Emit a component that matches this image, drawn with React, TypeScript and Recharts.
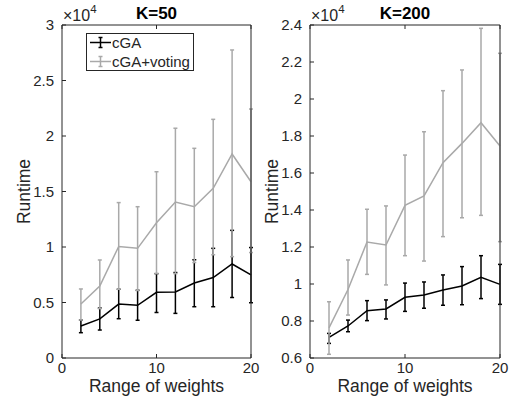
import React from 'react';
import { LineChart, Line, XAxis, YAxis, ErrorBar, Legend, Label } from 'recharts';

const FONT = '"Liberation Sans", Arial, Helvetica, sans-serif';
const AXIS_COLOR = '#262626';
const GRAY = '#a9a9a9';

const weights = [2, 4, 6, 8, 10, 12, 14, 16, 18, 20];
const seriesNames = ['cGA', 'cGA+voting'];

// K=50 panel
const k50CgaMean = [2880, 3520, 4860, 4750, 5920, 5950, 6750, 7250, 8470, 7480];
const k50CgaLow = [2280, 2520, 3540, 3400, 4100, 4020, 4620, 4620, 5450, 4980];
const k50CgaHigh = [3420, 4500, 6190, 6100, 7600, 7700, 8850, 9880, 11500, 9950];
const k50VoteMean = [4860, 6490, 10050, 9880, 12190, 14050, 13630, 15290, 18380, 15880];
const k50VoteLow = [3420, 4450, 6190, 6080, 7600, 7600, 8600, 9300, 9130, 9500];
const k50VoteHigh = [6220, 8830, 14000, 13630, 16780, 20700, 18890, 21500, 27750, 22430];

// K=200 panel
const k200CgaMean = [7120, 7730, 8560, 8650, 9280, 9410, 9680, 9890, 10360, 9980];
const k200CgaLow = [6790, 7420, 8020, 8110, 8520, 8690, 8850, 8880, 9210, 8900];
const k200CgaHigh = [7330, 8050, 9100, 9140, 10050, 10110, 10490, 10940, 11530, 11060];
const k200VoteMean = [7630, 9700, 12270, 12110, 14250, 14760, 16560, 17600, 18720, 17460];
const k200VoteLow = [6200, 8320, 10520, 9950, 11530, 11240, 12560, 13580, 13710, 12290];
const k200VoteHigh = [9040, 11300, 14040, 14220, 16970, 18230, 20450, 21570, 23820, 22470];

const xTicks = [0, 10, 20];
const k50YTicks = [0, 5000, 10000, 15000, 20000, 25000, 30000];
const k200YTicks = [6000, 8000, 10000, 12000, 14000, 16000, 18000, 20000, 22000, 24000];

function buildRows(cm: number[], cl: number[], ch: number[], vm: number[], vl: number[], vh: number[]) {
  return weights.map((w, i) => ({
    x: w,
    cga: cm[i],
    cgaErr: [cm[i] - cl[i], ch[i] - cm[i]],
    vote: vm[i],
    voteErr: [vm[i] - vl[i], vh[i] - vm[i]],
  }));
}

const k50Rows = buildRows(k50CgaMean, k50CgaLow, k50CgaHigh, k50VoteMean, k50VoteLow, k50VoteHigh);
const k200Rows = buildRows(k200CgaMean, k200CgaLow, k200CgaHigh, k200VoteMean, k200VoteLow, k200VoteHigh);

const fmtY = (v: number) => (v / 10000).toString();

const LegendBox = () => {
  const colors = ['#000', GRAY];
  return (
    <svg width={108} height={38} style={{ display: 'block' }}>
      <rect x={0.5} y={0.5} width={107} height={37} fill="#fff" stroke={AXIS_COLOR} strokeWidth={1} />
      {seriesNames.map((name, i) => {
        const cy = 9.5 + i * 19;
        return (
          <g key={name} stroke={colors[i]} strokeWidth={1.5}>
            <line x1={4} x2={25} y1={cy} y2={cy} />
            <line x1={14.5} x2={14.5} y1={cy - 5} y2={cy + 5} />
            <line x1={12.5} x2={16.5} y1={cy - 5} y2={cy - 5} />
            <line x1={12.5} x2={16.5} y1={cy + 5} y2={cy + 5} />
            <text x={26} y={cy + 5.3} stroke="none" fill={AXIS_COLOR} fontSize={15} fontFamily={FONT}>
              {name}
            </text>
          </g>
        );
      })}
    </svg>
  );
};

type PanelProps = {
  rows: any[];
  yTicks: number[];
  title: string;
  yAxisWidth: number;
  chartWidth: number;
  marginRight: number;
  showLegend: boolean;
};

const Panel = ({ rows, yTicks, title, yAxisWidth, chartWidth, marginRight, showLegend }: PanelProps) => {
  const domain: [number, number] = [yTicks[0], yTicks[yTicks.length - 1]];
  const tickStyle = { fill: AXIS_COLOR, fontSize: 15, fontFamily: FONT };
  return (
    <LineChart width={chartWidth} height={408} data={rows} margin={{ top: 24, right: marginRight, bottom: 0, left: 0 }}>
      <XAxis
        xAxisId="b"
        dataKey="x"
        type="number"
        domain={[0, 20]}
        ticks={xTicks}
        interval={0}
        height={50}
        tickSize={-4}
        tickMargin={8}
        stroke={AXIS_COLOR}
        tick={tickStyle}
        axisLine={{ stroke: AXIS_COLOR, strokeWidth: 1 }}
        tickLine={{ stroke: AXIS_COLOR }}
      >
        <Label
          content={(p: any) => {
            const vb = p.viewBox;
            return (
              <text x={vb.x + vb.width / 2} y={vb.y + 34} textAnchor="middle" fontSize={17.5} fontFamily={FONT} fill={AXIS_COLOR}>
                Range of weights
              </text>
            );
          }}
        />
      </XAxis>
      <XAxis
        xAxisId="t"
        orientation="top"
        dataKey="x"
        type="number"
        domain={[0, 20]}
        ticks={xTicks}
        interval={0}
        height={1}
        tickSize={-4}
        tickFormatter={() => ''}
        stroke={AXIS_COLOR}
        axisLine={{ stroke: AXIS_COLOR, strokeWidth: 1 }}
        tickLine={{ stroke: AXIS_COLOR }}
      >
        <Label
          content={(p: any) => {
            const vb = p.viewBox;
            const top = vb.y + vb.height;
            return (
              <g>
                <text x={vb.x + vb.width / 2} y={top - 6.5} textAnchor="middle" fontSize={17} fontWeight="bold" fontFamily={FONT} fill="#000">
                  {title}
                </text>
                <text x={vb.x + 1} y={top - 4.5} fontSize={16} fontFamily={FONT} fill={AXIS_COLOR}>
                  ×10
                  <tspan dy={-8} fontSize={11.5}>4</tspan>
                </text>
              </g>
            );
          }}
        />
      </XAxis>
      <YAxis
        yAxisId="l"
        type="number"
        domain={domain}
        ticks={yTicks}
        interval={0}
        width={yAxisWidth}
        tickSize={-4}
        tickMargin={12}
        tickFormatter={fmtY}
        stroke={AXIS_COLOR}
        tick={tickStyle}
        axisLine={{ stroke: AXIS_COLOR, strokeWidth: 1 }}
        tickLine={{ stroke: AXIS_COLOR }}
      >
        <Label
          content={(p: any) => {
            const vb = p.viewBox;
            const cx = vb.x + vb.width - 32;
            const cy = vb.y + vb.height / 2;
            return (
              <text x={cx} y={cy} transform={`rotate(-90, ${cx}, ${cy})`} textAnchor="middle" fontSize={17.5} fontFamily={FONT} fill={AXIS_COLOR}>
                Runtime
              </text>
            );
          }}
        />
      </YAxis>
      <YAxis
        yAxisId="r"
        orientation="right"
        type="number"
        domain={domain}
        ticks={yTicks}
        interval={0}
        width={1}
        tickSize={-4}
        tickFormatter={() => ''}
        stroke={AXIS_COLOR}
        axisLine={{ stroke: AXIS_COLOR, strokeWidth: 1 }}
        tickLine={{ stroke: AXIS_COLOR }}
      />
      <Line
        xAxisId="b"
        yAxisId="l"
        type="linear"
        dataKey="cga"
        name={seriesNames[0]}
        stroke="#000"
        strokeWidth={1.5}
        dot={false}
        activeDot={false}
        isAnimationActive={false}
      >
        <ErrorBar dataKey="cgaErr" direction="y" width={2} stroke="#000" strokeWidth={1.5} isAnimationActive={false} />
      </Line>
      <Line
        xAxisId="b"
        yAxisId="l"
        type="linear"
        dataKey="vote"
        name={seriesNames[1]}
        stroke={GRAY}
        strokeWidth={1.5}
        dot={false}
        activeDot={false}
        isAnimationActive={false}
      >
        <ErrorBar dataKey="voteErr" direction="y" width={2} stroke={GRAY} strokeWidth={1.5} isAnimationActive={false} />
      </Line>
      {showLegend && (
        <Legend
          layout="horizontal"
          verticalAlign="middle"
          align="center"
          content={() => <LegendBox />}
          wrapperStyle={{ position: 'absolute', left: 86, top: 33, width: 108, height: 38 }}
        />
      )}
    </LineChart>
  );
};

export default function App() {
  return (
    <div style={{ position: 'absolute', left: 0, top: 0, width: 516, height: 408, background: '#fff', fontFamily: FONT }}>
      <div style={{ position: 'absolute', left: 0, top: 0 }}>
        <Panel rows={k50Rows} yTicks={k50YTicks} title="K=50" yAxisWidth={62} chartWidth={266} marginRight={14} showLegend={true} />
      </div>
      <div style={{ position: 'absolute', left: 256, top: 0 }}>
        <Panel rows={k200Rows} yTicks={k200YTicks} title="K=200" yAxisWidth={54} chartWidth={258} marginRight={13} showLegend={false} />
      </div>
    </div>
  );
}
